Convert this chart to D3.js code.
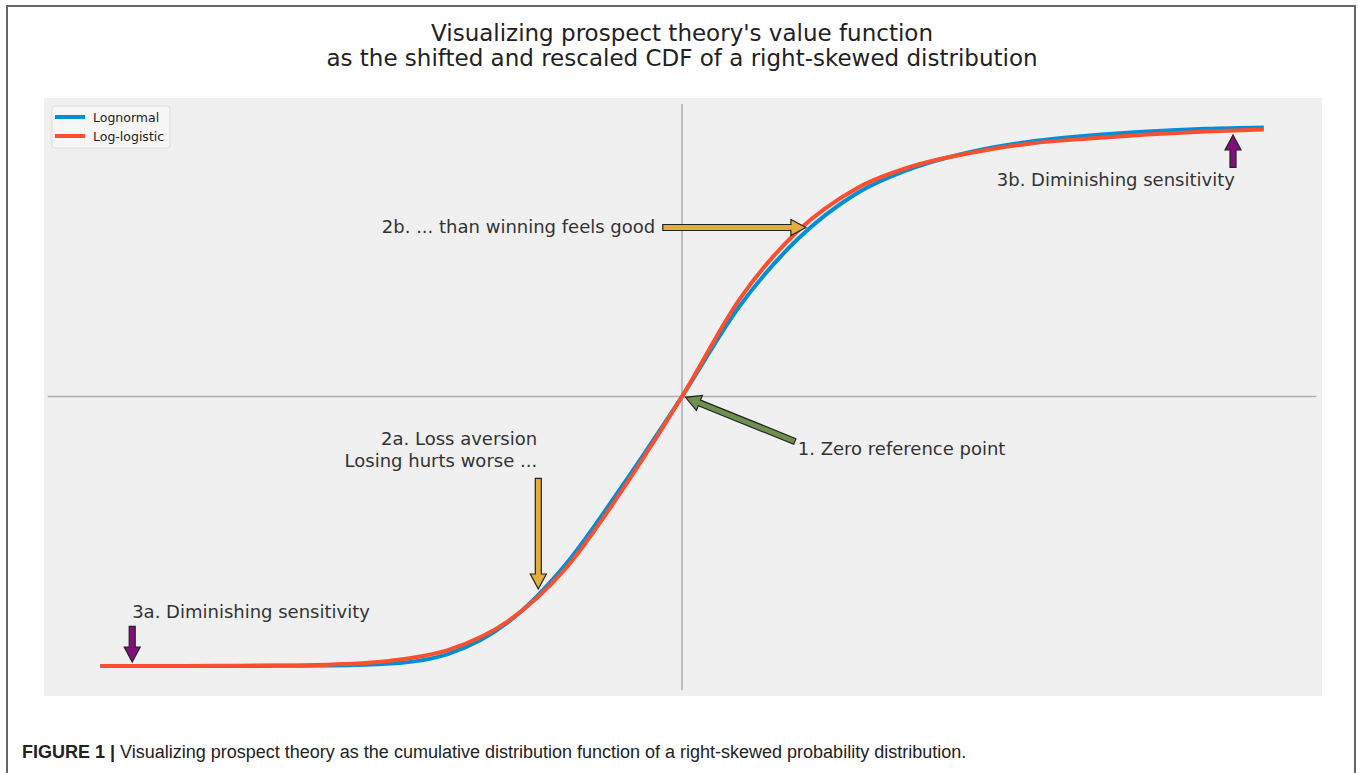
<!DOCTYPE html>
<html>
<head>
<meta charset="utf-8">
<title>Prospect theory value function</title>
<script src="https://d3js.org/d3.v7.min.js"></script>
<style>
  html, body { margin: 0; padding: 0; background: #fff; }
  svg { display: block; }
  .ann { font-family: "DejaVu Sans", sans-serif; font-size: 18px; fill: #333; }
</style>
</head>
<body>
<div id="chart"></div>
<script>
// values (x and y both run from -1 to 1)
var xs = [-1.0, -0.9, -0.8, -0.7, -0.6, -0.5, -0.4, -0.3, -0.2, -0.1, 0.0,
          0.1, 0.2, 0.3, 0.4, 0.5, 0.6, 0.7, 0.8, 0.9, 1.0];
var lognormal = [-1.0, -1.0, -1.0, -0.999, -0.998, -0.991, -0.954, -0.839, -0.623, -0.323, 0.0,
                 0.338, 0.586, 0.753, 0.850, 0.909, 0.946, 0.968, 0.983, 0.993, 0.998];
var loglogistic = [-1.0, -1.0, -0.999, -0.998, -0.994, -0.980, -0.939, -0.835, -0.638, -0.338, 0.0,
                   0.364, 0.616, 0.772, 0.857, 0.905, 0.939, 0.957, 0.972, 0.983, 0.991];
var seriesNames = ["Lognormal", "Log-logistic"];

var titleLines = ["Visualizing prospect theory's value function",
                  "as the shifted and rescaled CDF of a right-skewed distribution"];

// annotations, in data coordinates
var notes = [
  {lines: ["2b. ... than winning feels good"], tx: -0.046, ty: 0.630, anchor: "end",
   from: [-0.033, 0.627], to: [0.213, 0.627], color: "#e5ae38"},
  {lines: ["3b. Diminishing sensitivity"], tx: 0.541, ty: 0.805, anchor: "start",
   from: [0.947, 0.850], to: [0.947, 0.970], color: "#810f7c"},
  {lines: ["1. Zero reference point"], tx: 0.199, ty: -0.193, anchor: "start",
   from: [0.194, -0.167], to: [0.006, -0.003], color: "#6d904f"},
  {lines: ["2a. Loss aversion", "Losing hurts worse ..."], tx: -0.249, ty: -0.156, anchor: "end",
   from: [-0.247, -0.304], to: [-0.247, -0.714], color: "#e5ae38"},
  {lines: ["3a. Diminishing sensitivity"], tx: -0.945, ty: -0.798, anchor: "start",
   from: [-0.945, -0.853], to: [-0.945, -0.985], color: "#810f7c"}
];

var W = 1358, H = 773;
var svg = d3.select("#chart").append("svg").attr("width", W).attr("height", H);

// figure frame
svg.append("path")
  .attr("d", "M7,780 L7,6 L1355,6 L1355,780")
  .attr("fill", "none").attr("stroke", "#666").attr("stroke-width", 2);

// title
svg.selectAll(".title").data(titleLines).enter().append("text")
  .attr("x", 682).attr("y", function(d, i) { return 41 + i * 25; })
  .attr("text-anchor", "middle")
  .style("font-family", "DejaVu Sans, sans-serif").style("font-size", "23px")
  .style("fill", "#222")
  .text(function(d) { return d; });

// axes box
var x = d3.scaleLinear().domain([-1.1, 1.1]).range([42, 1322]);
var y = d3.scaleLinear().domain([-1.1, 1.1]).range([693, 100]);

svg.append("rect")
  .attr("x", 44).attr("y", 98).attr("width", 1278).attr("height", 598)
  .attr("fill", "#f0f0f0");

// reference lines through zero
svg.append("line")
  .attr("x1", x(-1.09)).attr("x2", x(1.09)).attr("y1", y(0)).attr("y2", y(0))
  .attr("stroke", "#b0b0b0").attr("stroke-width", 1.6);
svg.append("line")
  .attr("x1", x(0)).attr("x2", x(0)).attr("y1", y(1.085)).attr("y2", y(-1.09))
  .attr("stroke", "#b0b0b0").attr("stroke-width", 1.6);

var line = d3.line()
  .x(function(d) { return x(d[0]); })
  .y(function(d) { return y(d[1]); })
  .curve(d3.curveMonotoneX);

var colors = ["#008fd5", "#fc4f30"];
[lognormal, loglogistic].forEach(function(vals, k) {
  svg.append("path")
    .datum(xs.map(function(v, i) { return [v, vals[i]]; }))
    .attr("d", line)
    .attr("fill", "none")
    .attr("stroke", colors[k])
    .attr("stroke-width", 4)
    .attr("stroke-linecap", "butt");
});

// arrows
function arrowPath(x0, y0, x1, y1) {
  var dx = x1 - x0, dy = y1 - y0, len = Math.sqrt(dx * dx + dy * dy);
  var ux = dx / len, uy = dy / len, nx = -uy, ny = ux;
  var sw = 3, hw = 8, hl = 15;
  var bx = x1 - ux * hl, by = y1 - uy * hl;
  var p = [
    [x0 + nx * sw, y0 + ny * sw],
    [bx + nx * sw, by + ny * sw],
    [bx + nx * hw, by + ny * hw],
    [x1, y1],
    [bx - nx * hw, by - ny * hw],
    [bx - nx * sw, by - ny * sw],
    [x0 - nx * sw, y0 - ny * sw]
  ];
  return "M" + p.map(function(q) { return q[0].toFixed(1) + "," + q[1].toFixed(1); }).join("L") + "Z";
}

notes.forEach(function(n) {
  svg.append("path")
    .attr("d", arrowPath(x(n.from[0]), y(n.from[1]), x(n.to[0]), y(n.to[1])))
    .attr("fill", n.color).attr("stroke", "#222").attr("stroke-width", 1.2)
    .attr("stroke-linejoin", "miter");
  var t = svg.append("text").attr("class", "ann")
    .attr("text-anchor", n.anchor);
  n.lines.forEach(function(s, i) {
    t.append("tspan")
      .attr("x", x(n.tx)).attr("y", y(n.ty) + 6 + i * 22)
      .text(s);
  });
});

// legend
var lg = svg.append("g");
lg.append("rect")
  .attr("x", 52).attr("y", 106).attr("width", 118).attr("height", 42)
  .attr("rx", 3).attr("fill", "#f6f6f6").attr("stroke", "#dcdcdc");
seriesNames.forEach(function(name, i) {
  lg.append("line")
    .attr("x1", 55).attr("x2", 85)
    .attr("y1", 117 + i * 19).attr("y2", 117 + i * 19)
    .attr("stroke", colors[i]).attr("stroke-width", 4);
  lg.append("text")
    .attr("x", 93).attr("y", 121.5 + i * 19)
    .style("font-family", "DejaVu Sans, sans-serif").style("font-size", "12.5px")
    .style("fill", "#222")
    .text(name);
});

// caption
var cap = svg.append("text")
  .attr("x", 22).attr("y", 758)
  .style("font-family", "Liberation Sans, Arial, sans-serif").style("font-size", "18px")
  .style("fill", "#222");
cap.append("tspan").style("font-weight", "bold").text("FIGURE 1 | ");
cap.append("tspan")
  .text("Visualizing prospect theory as the cumulative distribution function of a right-skewed probability distribution.");
</script>
</body>
</html>
